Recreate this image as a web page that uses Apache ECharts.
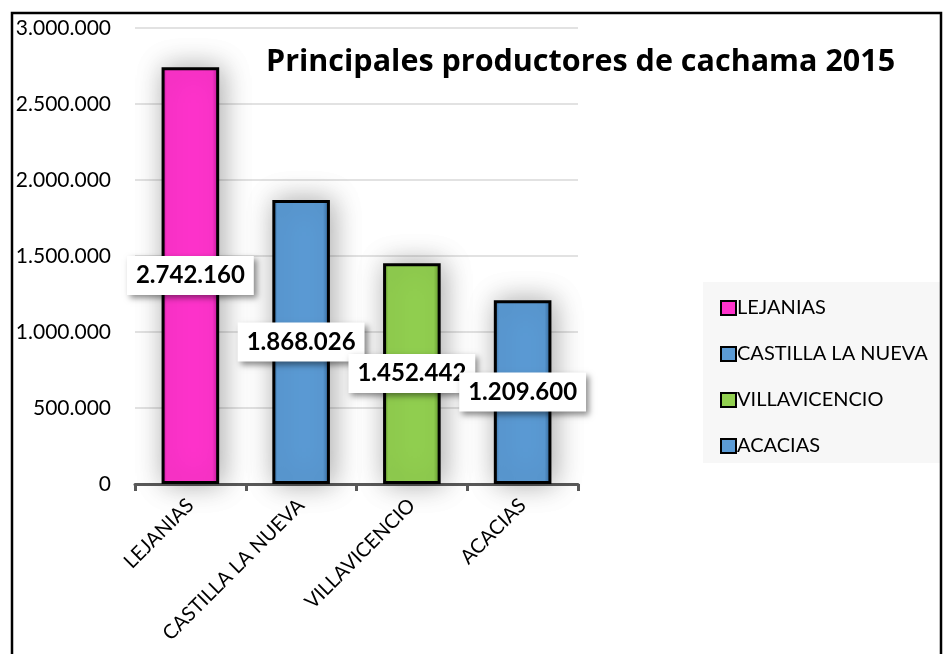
<!DOCTYPE html>
<html>
<head>
<meta charset="utf-8">
<script src="https://cdn.jsdelivr.net/npm/echarts@6/dist/echarts.min.js"></script>
<style>
  html, body { margin: 0; padding: 0; background: #ffffff; }
  #chart { width: 943px; height: 654px; }
</style>
</head>
<body>
<div id="chart"></div>
<script>
// Production by municipality, 2015
const categories = ['LEJANIAS', 'CASTILLA LA NUEVA', 'VILLAVICENCIO', 'ACACIAS'];
const production = [2742160, 1868026, 1452442, 1209600];
const yTickValues = [0, 500000, 1000000, 1500000, 2000000, 2500000, 3000000];

// Fill colours per municipality: [base, bevel edge]
const palette = [
  ['#FF33CC', '#B81894'],
  ['#5B9BD5', '#2F6296'],
  ['#92D050', '#5C8F28'],
  ['#5B9BD5', '#2F6296']
];

const FONT = 'Lato, "Open Sans", sans-serif';

function dotted(v) {
  return String(Math.round(v)).replace(/\B(?=(\d{3})+(?!\d))/g, '.');
}

function bevel(base, edge) {
  return new echarts.graphic.LinearGradient(0, 0, 1, 0, [
    { offset: 0, color: edge },
    { offset: 0.09, color: base },
    { offset: 0.88, color: base },
    { offset: 1, color: edge }
  ]);
}

const chart = echarts.init(document.getElementById('chart'), null, { renderer: 'canvas' });

const series = categories.map((name, i) => ({
  name: name,
  type: 'bar',
  stack: 'municipios',
  barWidth: '52%',
  data: production.map((v, j) => (j === i ? v : '-')),
  itemStyle: {
    color: bevel(palette[i][0], palette[i][1]),
    borderColor: '#000000',
    borderWidth: 3,
    shadowColor: 'rgba(0,0,0,0.34)',
    shadowBlur: 28,
    shadowOffsetX: 3,
    shadowOffsetY: 0
  },
  label: {
    show: true,
    position: 'inside',
    formatter: p => dotted(p.value),
    fontFamily: FONT,
    fontWeight: 'bold',
    fontSize: 24,
    color: '#000000',
    backgroundColor: '#ffffff',
    padding: [8, 9, 7, 9],
    shadowColor: 'rgba(0,0,0,0.45)',
    shadowBlur: 6,
    shadowOffsetX: 3,
    shadowOffsetY: 3
  },
  emphasis: { disabled: true }
}));

chart.setOption({
  animation: false,
  backgroundColor: '#ffffff',
  title: {
    text: 'Principales productores de cachama 2015',
    left: 261,
    top: 42,
    textStyle: {
      fontFamily: '"Open Sans", Lato, sans-serif',
      fontWeight: 'bold',
      fontSize: 30.5,
      color: '#000000'
    }
  },
  legend: {
    orient: 'vertical',
    left: 715,
    top: 293,
    itemWidth: 15,
    itemHeight: 14,
    itemGap: 26,
    icon: 'rect',
    data: categories,
    itemStyle: { borderColor: '#000000', borderWidth: 2 },
    textStyle: { fontFamily: FONT, fontSize: 20, color: '#000000', padding: [0, 0, 0, -4] }
  },
  grid: {
    left: 135,
    right: 365,
    top: 28,
    bottom: 170,
    containLabel: false
  },
  xAxis: {
    type: 'category',
    data: categories,
    axisLine: { lineStyle: { color: '#595959', width: 3 } },
    axisTick: { show: true, length: 7, lineStyle: { color: '#595959', width: 3 } },
    axisLabel: {
      rotate: 45,
      margin: 18,
      fontFamily: FONT,
      fontSize: 20,
      color: '#000000'
    }
  },
  yAxis: {
    type: 'value',
    min: yTickValues[0],
    max: yTickValues[yTickValues.length - 1],
    interval: yTickValues[1] - yTickValues[0],
    axisLine: { show: false },
    axisTick: { show: false },
    splitLine: { lineStyle: { color: '#d9d9d9', width: 1.5 } },
    axisLabel: {
      margin: 24,
      fontFamily: FONT,
      fontSize: 21,
      color: '#000000',
      formatter: v => dotted(v)
    }
  },
  graphic: [
    {
      type: 'rect',
      z: -10,
      shape: { x: 703, y: 282, width: 237, height: 181 },
      style: { fill: '#f7f7f7' }
    },
    {
      type: 'rect',
      z: 100,
      shape: { x: 12, y: 13, width: 929, height: 700 },
      style: { fill: 'none', stroke: '#000000', lineWidth: 2.5 }
    }
  ],
  series: series
});
</script>
</body>
</html>
